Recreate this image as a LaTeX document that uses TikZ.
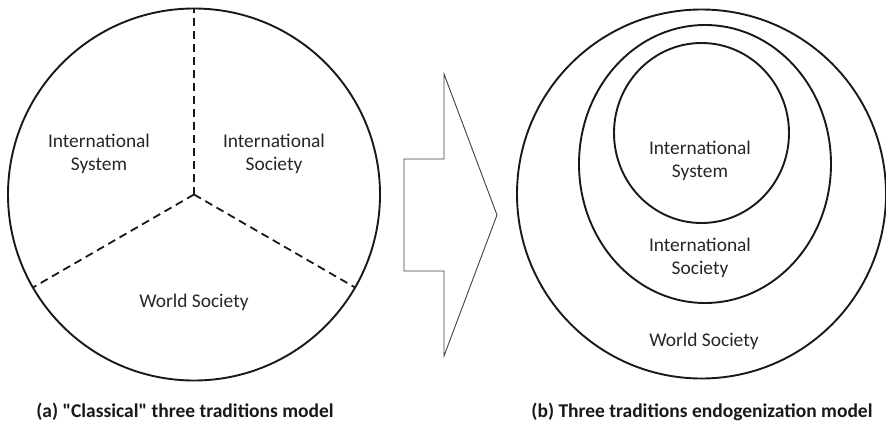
\documentclass[tikz,border=0pt]{standalone}
\usepackage{fontspec}
\setmainfont{Carlito}
\usetikzlibrary{calc}
\begin{document}
\begin{tikzpicture}[x=1pt,y=-1pt,
  ring/.style={line width=1.9pt, draw=black!90},
  divider/.style={line width=1.8pt, draw=black!90, dash pattern=on 8pt off 5pt},
  bigarrow/.style={line width=0.9pt, draw=black!75, line join=miter},
  lbl/.style={font=\fontsize{19.4}{23}\selectfont, text=black!85, align=center, inner sep=0pt},
  captiontext/.style={font=\fontsize{19.5}{23}\selectfont\bfseries, text=black!90, inner sep=0pt}]
\useasboundingbox (0,0) rectangle (886,423);
% left circle
\coordinate (lc) at (194,194.5);
\draw[ring] (lc) circle (186);
\coordinate (top) at ($(lc)+(0,-186)$);
\coordinate (lft) at ($(lc)+(150:186)$);
\coordinate (rgt) at ($(lc)+(30:186)$);
\draw[divider] (lc) -- (top);
\draw[divider] (lc) -- (lft);
\draw[divider] (lc) -- (rgt);
\node[lbl] (isys) at (99,153.5) {International\\System};
\node[lbl] (isoc) at (274,153.5) {International\\Society};
\node[lbl] (wsoc) at (194,302) {World Society};
% arrow
\draw[bigarrow] (404,159) -- (444,159) -- (444,74) -- (497,215) -- (444,356) -- (444,271) -- (404,271) -- cycle;
% right circles
\draw[ring] (701.5,194) circle (184.5);
\draw[ring] (705,164) ellipse (126 and 139);
\draw[ring] (701.5,133) ellipse (87.5 and 90);
\node[lbl] (isys2) at (700,160.5) {International\\System};
\node[lbl] (isoc2) at (700,257.5) {International\\Society};
\node[lbl] (wsoc2) at (704,341) {World Society};
% captions
\node[captiontext] (capa) at (185,412) {(a) \textquotedbl Classical\textquotedbl{} three traditions model};
\node[captiontext] (capb) at (702,412) {(b) Three traditions endogenization model};
\end{tikzpicture}
\end{document}
